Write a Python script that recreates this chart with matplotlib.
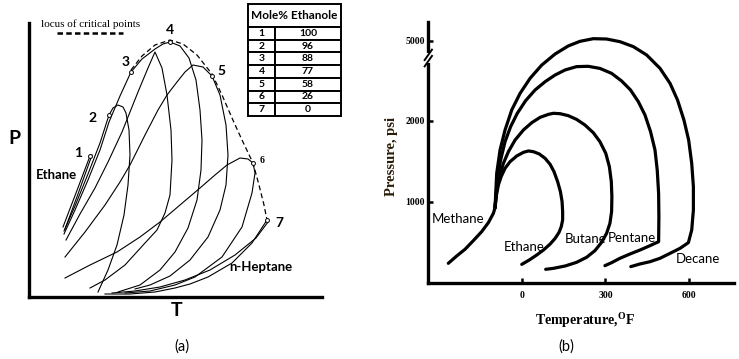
import matplotlib
matplotlib.use("Agg")
import matplotlib.pyplot as plt
import numpy as np

plt.rcParams["mathtext.fontset"] = "custom"
plt.rcParams["mathtext.rm"] = "Liberation Serif"
plt.rcParams["mathtext.bf"] = "Liberation Serif:bold"

# ---------------- Panel (a): ethane / n-heptane phase envelopes (schematic units) ----------------
env1a_T = [34, 47, 61]
env1a_P = [70, 104, 141]
env1b_T = [36, 49, 63]
env1b_P = [68, 103, 142]

env2_T = [35, 46, 59, 71, 80, 84, 89, 94, 97, 100, 101, 99, 95, 88, 79, 69]
env2_P = [66, 91, 123, 154, 182, 189, 192, 190, 184, 167, 142, 112, 82, 52, 27, 5]

env3_T = [37, 51, 66, 79, 93, 109, 119, 126, 133, 138, 142, 143, 141, 136, 128, 116, 96, 76, 61]
env3_P = [57, 83, 109, 135, 165, 205, 229, 245, 229, 202, 167, 137, 102, 84, 67, 54, 32, 17, 9]

env4_T = [35, 46, 59, 71, 80, 91, 102, 113, 126, 134, 141, 151, 160, 167, 171, 173, 172, 168, 159, 146, 131, 111, 89]
env4_P = [63, 87, 117, 147, 175, 201, 225, 238, 248, 253, 255, 251, 239, 217, 187, 157, 127, 97, 69, 45, 27, 12, 5]

env5_T = [36, 56, 76, 91, 101, 116, 129, 138, 148, 156, 164, 174, 183, 191, 197, 199, 197, 191, 179, 161, 141, 121, 106]
env5_P = [40, 65, 92, 115, 132, 162, 187, 202, 215, 225, 232, 230, 221, 202, 172, 142, 112, 87, 60, 37, 21, 12, 8]

env6_T = [36, 61, 88, 111, 131, 151, 171, 186, 198, 211, 219, 224, 226, 223, 213, 193, 166, 146, 121, 96]
env6_P = [19, 32, 45, 60, 75, 92, 109, 122, 132, 139, 138, 134, 124, 104, 70, 40, 20, 12, 6, 4]

env7a_T = [76, 101, 126, 146, 161, 179, 203, 223, 238]
env7a_P = [3, 3, 5, 9, 13, 20, 34, 54, 77]
env7b_T = [83, 106, 131, 156, 181, 206, 227, 239]
env7b_P = [4, 6, 10, 17, 27, 42, 59, 75]

crit_labels = ["1", "2", "3", "4", "5", "6", "7"]
crit_T = [61, 80, 102, 141, 183, 224, 238]
crit_P = [141, 182, 225, 255, 221, 134, 77]

locus_T = [102, 113, 126, 141, 154, 168, 183, 193, 203, 213, 224, 230, 235, 238]
locus_P = [227, 241, 252, 257, 253, 242, 223, 202, 179, 157, 134, 112, 92, 77]

table_ids = ["1", "2", "3", "4", "5", "6", "7"]
table_mole_pct = ["100", "96", "88", "77", "58", "26", "0"]

# ---------------- Panel (b): methane binary envelopes (T in °F, P in psi) ----------------
methane_T = [-265, -235, -205, -175, -145, -121, -103, -97]
methane_P = [243, 333, 416, 523, 634, 745, 860, 930]

ethane_T = [-97, -93, -85, -75, -61, -43, -19, 5, 23, 41, 62, 83, 101, 115, 128, 138, 144,
            146, 146, 141, 133, 119, 101, 77, 53, 26, -1]
ethane_P = [930, 1066, 1210, 1313, 1416, 1498, 1568, 1613, 1630, 1621, 1593, 1539, 1465, 1374,
            1251, 1128, 1004, 881, 778, 695, 625, 551, 481, 407, 346, 284, 230]

butane_T = [-97, -91, -81, -67, -49, -25, 5, 35, 65, 95, 113, 137, 166, 196, 226, 256, 280, 301,
            314, 321, 323, 322, 316, 304, 286, 262, 232, 196, 155, 113, 85]
butane_P = [930, 1148, 1313, 1477, 1621, 1765, 1889, 1979, 2045, 2082, 2095, 2090, 2066, 2020,
            1951, 1856, 1745, 1601, 1436, 1251, 1066, 881, 737, 613, 502, 399, 317, 255, 210,
            181, 169]

pentane_T = [-97, -89, -77, -61, -41, -17, 13, 47, 83, 119, 155, 196, 238, 280, 322, 358, 390,
             418, 442, 462, 478, 486, 491, 492, 491, 460, 424, 388, 352, 322, 298]
pentane_P = [930, 1272, 1518, 1745, 1930, 2095, 2251, 2383, 2485, 2568, 2630, 2671, 2675, 2649,
             2588, 2494, 2383, 2239, 2074, 1868, 1642, 1395, 1107, 819, 510, 461, 407, 358, 305,
             251, 214]

decane_T = [-97, -91, -79, -61, -37, -7, 29, 71, 119, 166, 208, 256, 304, 352, 400, 448, 496,
            532, 559, 582, 599, 610, 616, 616, 610, 598, 568, 532, 496, 460, 424, 391]
decane_P = [930, 1354, 1642, 1889, 2136, 2341, 2527, 2691, 3478, 4413, 4952, 5264, 5226, 4914,
            4338, 3364, 2650, 2465, 2259, 2012, 1765, 1477, 1189, 901, 654, 498, 428, 366, 305,
            263, 235, 202]

x_ticks = [0, 300, 600]
y_ticks = [1000, 2000, 5000]
P_BREAK = 2750
P_SQUEEZE = 0.1058

# ================= figure =================
fig = plt.figure(figsize=(7.39, 3.59), dpi=100)

sans_b = dict(family=["Lato", "DejaVu Sans"], fontweight="bold")
serif_b = dict(family=["Liberation Serif"], fontweight="bold")

# ---------- Panel (a) ----------
axA = fig.add_axes([29 / 739, 62 / 359, 293 / 739, 274 / 359])
axA.set_xlim(0, 293)
axA.set_ylim(0, 274)
for s in ["top", "right"]:
    axA.spines[s].set_visible(False)
for s in ["left", "bottom"]:
    axA.spines[s].set_linewidth(2.4)
axA.set_xticks([])
axA.set_yticks([])

curves_a = [(env1a_T, env1a_P), (env1b_T, env1b_P), (env2_T, env2_P), (env3_T, env3_P),
            (env4_T, env4_P), (env5_T, env5_P), (env6_T, env6_P), (env7a_T, env7a_P),
            (env7b_T, env7b_P)]
for t, p in curves_a:
    axA.plot(t, p, color="black", lw=0.8, solid_joinstyle="round")

axA.plot(locus_T, locus_P, color="black", lw=0.9, ls=(0, (4, 2.5)))
axA.plot(crit_T, crit_P, "o", ms=2.8, mfc="white", mec="black", mew=0.7, zorder=5)

label_offsets = [(-6, 2), (-9, -2), (-4, 7), (0, 8.5), (4, 3.5), (5, 2), (6, -2)]
for lab, t, p, off in zip(crit_labels, crit_T, crit_P, label_offsets):
    if lab == "6":
        axA.annotate(lab, (t, p), xytext=off, textcoords="offset points", fontsize=7,
                     ha="left", va="center", **serif_b)
    else:
        axA.annotate(lab, (t, p), xytext=off, textcoords="offset points", fontsize=10,
                     ha="center" if lab in ("3", "4") else ("right" if lab in ("1", "2") else "left"),
                     va="center", **sans_b)

# legend for the locus
axA.plot([0.096, 0.321], [0.9635, 0.9635], transform=axA.transAxes, color="black",
         lw=1.8, ls=(0, (2.2, 1.3)), clip_on=False)
axA.text(0.2116, 0.996, "locus of critical points", transform=axA.transAxes,
         ha="center", va="center", fontsize=8, family="Liberation Serif")

axA.text(0.024, 0.445, "Ethane", transform=axA.transAxes, ha="left", va="center",
         fontsize=9.5, **sans_b)
axA.text(0.683, 0.109, "n-Heptane", transform=axA.transAxes, ha="left", va="center",
         fontsize=9.5, **sans_b)
axA.text(-0.048, 0.58, "P", transform=axA.transAxes, ha="center", va="center",
         fontsize=14, **sans_b)
axA.text(0.505, -0.05, "T", transform=axA.transAxes, ha="center", va="center",
         fontsize=14, **sans_b)

# table
axT = fig.add_axes([248 / 739, 243 / 359, 93 / 739, 112 / 359])
axT.axis("off")
cell_text = [["", ""]] + [[i, v] for i, v in zip(table_ids, table_mole_pct)]
tbl = axT.table(cellText=cell_text, cellLoc="center", bbox=[0, 0, 1, 1],
                colWidths=[27, 66])
tbl.auto_set_font_size(False)
for (r, c), cell in tbl.get_celld().items():
    cell.set_linewidth(1.4)
    cell.set_height(23 if r == 0 else 12.7)
    cell.get_text().set_fontsize(7.5)
    cell.get_text().set_fontweight("bold")
    cell.get_text().set_family(["Lato", "DejaVu Sans"])
    if r == 0:
        cell.visible_edges = "BTL" if c == 0 else "BTR"
axT.text(0.5, 1 - 11.5 / 112, "Mole% Ethanole", transform=axT.transAxes, ha="center",
         va="center", fontsize=8.5, **sans_b)

fig.text(182 / 739, 1 - 347 / 359, "(a)", ha="center", va="center", fontsize=10.5,
         family=["Lato", "DejaVu Sans"])

# ---------- Panel (b) ----------
def fwd(p):
    p = np.asarray(p, dtype=float)
    return np.where(p <= P_BREAK, p, P_BREAK + (p - P_BREAK) * P_SQUEEZE)


def inv(c):
    c = np.asarray(c, dtype=float)
    return np.where(c <= P_BREAK, c, P_BREAK + (c - P_BREAK) / P_SQUEEZE)


axB = fig.add_axes([428 / 739, 76 / 359, 306 / 739, 261 / 359])
axB.set_yscale("function", functions=(fwd, inv))
axB.set_xlim(-338, 762)
axB.set_ylim(0, 7211)
for s in ["top", "right"]:
    axB.spines[s].set_visible(False)
for s in ["left", "bottom"]:
    axB.spines[s].set_linewidth(2.4)

for t, p in [(methane_T, methane_P), (ethane_T, ethane_P), (butane_T, butane_P),
             (pentane_T, pentane_P), (decane_T, decane_P)]:
    axB.plot(t, p, color="black", lw=2.3, solid_joinstyle="round", solid_capstyle="round")

axB.set_xticks(x_ticks)
axB.set_xticklabels([str(v) for v in x_ticks])
axB.set_yticks(y_ticks)
axB.set_yticklabels([str(v) for v in y_ticks])
axB.tick_params(axis="both", direction="in", length=3.5, width=1.8, labelsize=7)
axB.tick_params(axis="x", pad=6)
axB.tick_params(axis="y", pad=2)
for lbl in axB.get_xticklabels() + axB.get_yticklabels():
    lbl.set_family("Liberation Serif")
    lbl.set_fontweight("bold")

axB.set_xlabel(r"Temperature,$^{\mathbf{O}}$F", fontsize=10, **serif_b)
axB.xaxis.set_label_coords(0.513, -0.105)
axB.set_ylabel("Pressure, psi", fontsize=10.5, color="#2a1a08", **serif_b)
axB.yaxis.set_label_coords(-0.098, 0.483)

# axis break on the pressure axis
yb = (283 - 58) / 261
axB.plot([0, 0], [yb - 0.02, yb + 0.02], transform=axB.transAxes, color="white",
         lw=4, clip_on=False, zorder=6, solid_capstyle="butt")
for dy in (-0.012, 0.012):
    axB.plot([-0.011, 0.013], [yb + dy - 0.02, yb + dy + 0.02], transform=axB.transAxes,
             color="black", lw=1.4, clip_on=False, zorder=7)

for name, t, p in [("Methane", -230, 790), ("Ethane", 7, 444), ("Butane", 230, 543),
                   ("Pentane", 395, 556), ("Decane", 632, 296)]:
    axB.text(t, p, name, ha="center", va="center", fontsize=9.5, family=["Lato", "DejaVu Sans"])

fig.text(566 / 739, 1 - 347 / 359, "(b)", ha="center", va="center", fontsize=10.5,
         family=["Lato", "DejaVu Sans"])

fig.savefig("out.png", dpi=100)
